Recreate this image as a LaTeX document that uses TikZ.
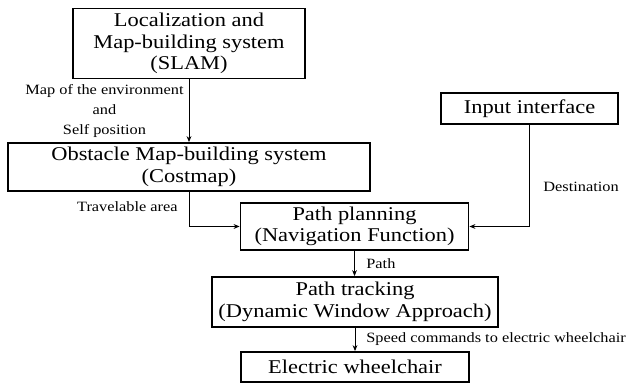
\documentclass[tikz,border=0pt]{standalone}
\usepackage{fontspec}
\setmainfont[FakeStretch=1.15]{Liberation Serif}
\usetikzlibrary{arrows.meta}

\begin{document}
\begin{tikzpicture}[x=0.5pt,y=-0.5pt,>={Stealth[length=3pt,width=2.4pt]},
  block/.style={draw,line width=0.9pt,rectangle,inner sep=0pt,align=center,
    font=\fontsize{9.75pt}{10.8pt}\selectfont},
  lbl/.style={inner sep=0pt,align=center,font=\fontsize{7.1pt}{10pt}\selectfont}]
\useasboundingbox (0,0) rectangle (635,383);
\node (slam) [block,minimum width=116pt,minimum height=35pt] at (189,43.5) {Localization and\\Map-building system\\(SLAM)};
\node (obst) [block,minimum width=181pt,minimum height=24pt] at (189,167) {Obstacle Map-building system\\(Costmap)};
\node (input) [block,minimum width=88.5pt,minimum height=15.5pt] at (529.5,108.5) {Input interface};
\node (plan) [block,minimum width=114pt,minimum height=23.5pt] at (354.5,226.5) {Path planning\\(Navigation Function)};
\node (track) [block,minimum width=143pt,minimum height=25pt] at (355,302) {Path tracking\\(Dynamic Window Approach)};
\node (chair) [block,minimum width=114pt,minimum height=15pt] at (355,367) {Electric wheelchair};
\node (envlbl) [lbl,anchor=east] at (184,111) {Map of the environment\\and\\Self position};
\node (travlbl) [lbl,anchor=east] at (178,207) {Travelable area};
\node (destlbl) [lbl,anchor=west] at (543,187) {Destination};
\node (pathlbl) [lbl,anchor=west] at (366,264) {Path};
\node (speedlbl) [lbl,anchor=west] at (366,339) {Speed commands to electric wheelchair};
\draw [->] (slam.south) -- (slam.south |- obst.north);
\draw [->] (obst.south) |- (plan.west);
\draw [->] (input.south) |- (plan.east);
\draw [->] (plan.south) -- (plan.south |- track.north);
\draw [->] (track.south) -- (track.south |- chair.north);
\end{tikzpicture}
\end{document}
